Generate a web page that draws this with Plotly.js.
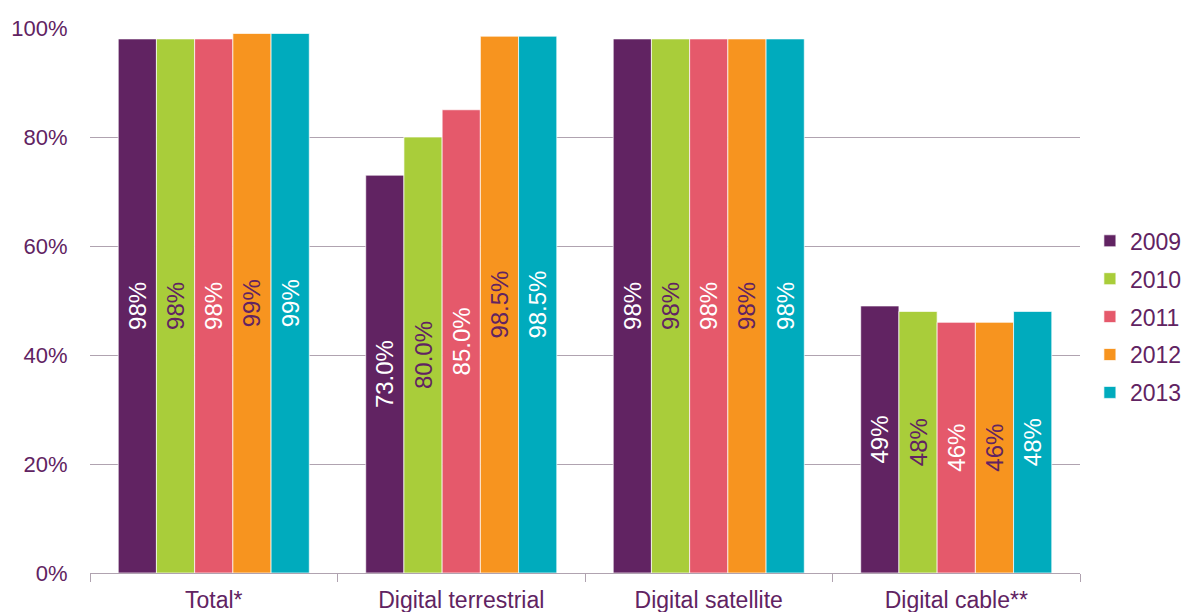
<!DOCTYPE html>
<html>
<head>
<meta charset="utf-8">
<script src="https://cdn.plot.ly/plotly-3.0.1.min.js"></script>
<style>html,body{margin:0;padding:0;background:#fff;}#chart{width:1182px;height:612px;}</style>
</head>
<body>
<div id="chart"></div>
<script>
var categories = ["Total*", "Digital terrestrial", "Digital satellite", "Digital cable**"];
var labelDecimals = [0, 1, 0, 0];
var years = ["2009", "2010", "2011", "2012", "2013"];
var v2009 = [0.98, 0.73, 0.98, 0.49];
var v2010 = [0.98, 0.80, 0.98, 0.48];
var v2011 = [0.98, 0.85, 0.98, 0.46];
var v2012 = [0.99, 0.985, 0.98, 0.46];
var v2013 = [0.99, 0.985, 0.98, 0.48];
var seriesValues = [v2009, v2010, v2011, v2012, v2013];
var yTickVals = [0, 0.2, 0.4, 0.6, 0.8, 1.0];
var yTickText = ["0%", "20%", "40%", "60%", "80%", "100%"];

var barColors = ["#612362", "#a9cd3a", "#e5596b", "#f7941f", "#00abbd"];
var labelColors = ["#ffffff", "#612362", "#ffffff", "#612362", "#ffffff"];
var textColor = "#612362";
var gridColor = "#b0a3b0";
var fontFamily = '"Liberation Sans", Arial, sans-serif';

var traces = seriesValues.map(function (vals, i) {
  return {
    type: "bar",
    name: years[i],
    x: categories,
    y: vals,
    text: vals.map(function (v, j) { return (v * 100).toFixed(labelDecimals[j]) + "%"; }),
    textposition: "inside",
    insidetextanchor: "middle",
    textangle: -90,
    constraintext: "none",
    textfont: { color: labelColors[i], size: 24, family: fontFamily },
    marker: { color: barColors[i], line: { color: "rgba(255,255,255,0.7)", width: 1 } },
    legendgroup: "g" + i,
    hoverinfo: "none"
  };
});

var layout = {
  width: 1182,
  height: 612,
  margin: { l: 90, r: 102, t: 28, b: 39, autoexpand: false },
  paper_bgcolor: "#ffffff",
  plot_bgcolor: "#ffffff",
  barmode: "group",
  bargap: 0.228,
  bargroupgap: 0,
  font: { family: fontFamily, color: textColor, size: 22 },
  xaxis: {
    type: "category",
    tickson: "boundaries",
    ticks: "outside",
    ticklen: 8,
    tickcolor: gridColor,
    tickwidth: 1,
    ticklabelstandoff: 6,
    showline: true,
    linecolor: gridColor,
    linewidth: 1,
    showgrid: false,
    tickfont: { size: 23, color: textColor },
    range: [-0.5, 3.5],
    automargin: false,
    fixedrange: true
  },
  yaxis: {
    range: [0, 1],
    tickvals: yTickVals,
    ticktext: yTickText,
    showgrid: true,
    gridcolor: gridColor,
    gridwidth: 1,
    zeroline: false,
    showline: false,
    ticks: "outside",
    ticklen: 17,
    tickcolor: "rgba(0,0,0,0)",
    tickfont: { size: 22, color: textColor },
    automargin: false,
    fixedrange: true
  },
  legend: {
    x: 1.01,
    y: 0.47,
    xanchor: "left",
    yanchor: "middle",
    font: { size: 23, color: textColor },
    tracegroupgap: 5,
    traceorder: "grouped",
    bgcolor: "rgba(0,0,0,0)",
    itemwidth: 30
  },
  showlegend: true
};

Plotly.newPlot("chart", traces, layout, { staticPlot: true, displayModeBar: false });
</script>
</body>
</html>
